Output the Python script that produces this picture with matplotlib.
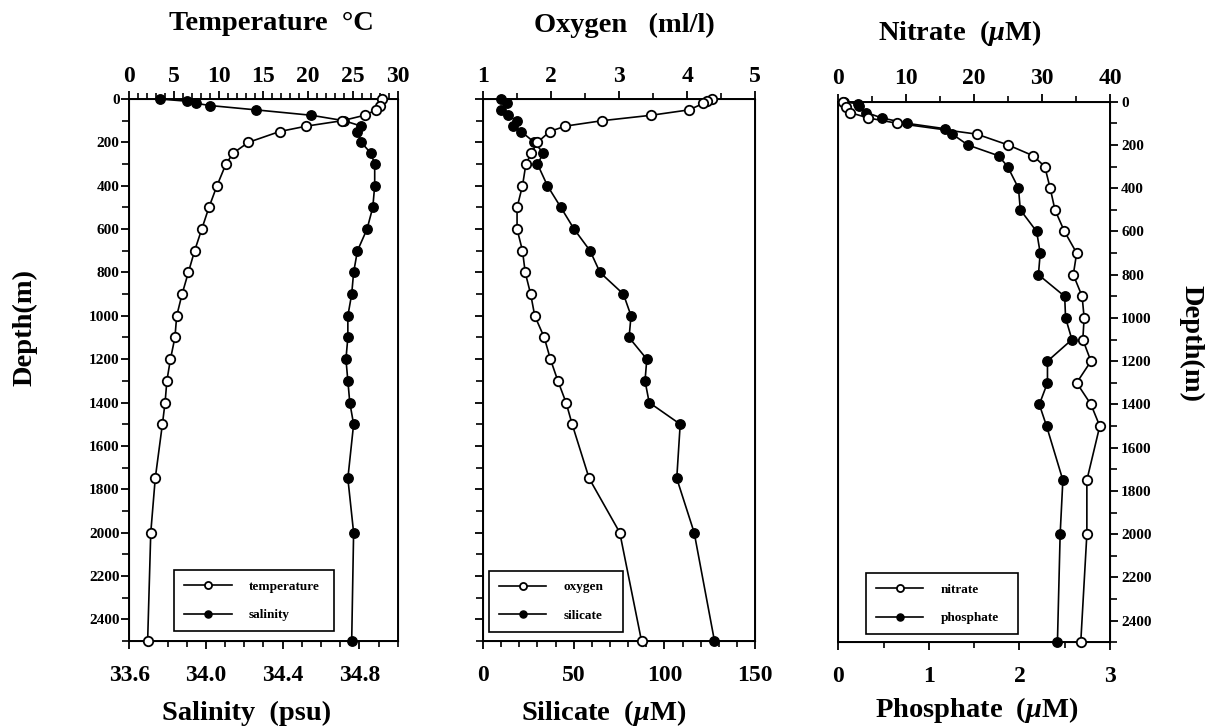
import matplotlib
matplotlib.use('Agg')
import matplotlib.pyplot as plt
from matplotlib.ticker import MultipleLocator

plt.rcParams['font.family'] = ['Liberation Serif', 'DejaVu Serif']
plt.rcParams['font.weight'] = 'bold'
plt.rcParams['mathtext.fontset'] = 'custom'
plt.rcParams['mathtext.rm'] = 'Liberation Serif:bold'
plt.rcParams['mathtext.it'] = 'Liberation Serif:italic:bold'

# Panel 1: temperature (top axis) and salinity (bottom axis)
depth_temp = [0, 30, 50, 75, 100, 125, 150, 200, 250, 300, 400, 500, 600, 700, 800,
              900, 1000, 1100, 1200, 1300, 1400, 1500, 1750, 2000, 2500]
temperature = [28.3, 28.0, 27.6, 26.3, 23.8, 19.8, 16.8, 13.3, 11.6, 10.8, 9.8, 8.9, 8.1,
               7.3, 6.6, 5.9, 5.3, 5.1, 4.6, 4.2, 4.0, 3.7, 2.9, 2.4, 2.05]
depth_sal = [0, 10, 20, 30, 50, 75, 100, 125, 150, 200, 250, 300, 400, 500, 600, 700,
             800, 900, 1000, 1100, 1200, 1300, 1400, 1500, 1750, 2000, 2500]
salinity = [33.76, 33.90, 33.95, 34.02, 34.26, 34.55, 34.72, 34.81, 34.79, 34.81, 34.86,
            34.88, 34.88, 34.87, 34.84, 34.79, 34.77, 34.76, 34.74, 34.74, 34.73, 34.74,
            34.75, 34.77, 34.74, 34.77, 34.76]

# Panel 2: oxygen (top axis) and silicate (bottom axis)
depth_oxy = [0, 10, 20, 50, 75, 100, 125, 150, 200, 250, 300, 400, 500, 600, 700, 800,
             900, 1000, 1100, 1200, 1300, 1400, 1500, 1750, 2000, 2500]
oxygen = [4.36, 4.29, 4.24, 4.03, 3.47, 2.75, 2.21, 1.98, 1.80, 1.71, 1.63, 1.58, 1.50,
          1.50, 1.58, 1.62, 1.70, 1.76, 1.90, 1.99, 2.10, 2.22, 2.31, 2.56, 3.01, 3.33]
depth_sil = [0, 20, 50, 75, 100, 125, 150, 200, 250, 300, 400, 500, 600, 700, 800, 900,
             1000, 1100, 1200, 1300, 1400, 1500, 1750, 2000, 2500]
silicate = [9.9, 13.1, 9.9, 13.6, 18.6, 16.7, 21.0, 28.3, 33.3, 30.0, 35.5, 42.9, 50.2,
            59.0, 64.5, 77.4, 81.6, 80.5, 90.3, 89.3, 91.6, 108.7, 106.8, 116.4, 127.6]

# Panel 3: nitrate (top axis) and phosphate (bottom axis)
depth_nit = [0, 25, 50, 75, 100, 150, 200, 250, 300, 400, 500, 600, 700, 800, 900,
             1000, 1100, 1200, 1300, 1400, 1500, 1750, 2000, 2500]
nitrate = [0.7, 1.1, 1.7, 4.4, 8.7, 20.4, 25.0, 28.7, 30.4, 31.2, 31.9, 33.3, 35.1, 34.6,
           35.9, 36.2, 36.0, 37.2, 35.1, 37.2, 38.5, 36.6, 36.6, 35.7]
depth_pho = [0, 10, 20, 50, 75, 100, 125, 150, 200, 250, 300, 400, 500, 600, 700, 800,
             900, 1000, 1100, 1200, 1300, 1400, 1500, 1750, 2000, 2500]
phosphate = [0.06, 0.22, 0.23, 0.31, 0.48, 0.76, 1.18, 1.26, 1.43, 1.77, 1.87, 1.99, 2.01,
             2.19, 2.23, 2.21, 2.50, 2.51, 2.58, 2.31, 2.31, 2.22, 2.30, 2.48, 2.45, 2.42]

fig = plt.figure(figsize=(12.14, 7.27), dpi=100)

open_style = dict(color='black', lw=1.2, marker='o', ms=6.8, mfc='white', mec='black',
                  mew=1.3, clip_on=False)
fill_style = dict(color='black', lw=1.2, marker='o', ms=6.8, mfc='black', mec='black',
                  clip_on=False)


def setup_depth(ax, side):
    ax.set_ylim(2500, 0)
    ax.yaxis.set_minor_locator(MultipleLocator(100))
    ax.set_yticks(range(0, 2401, 200))
    for sp in ax.spines.values():
        sp.set_linewidth(1.4)
    if side == 'left':
        ax.tick_params(axis='y', which='both', left=True, right=False, labelleft=True,
                       labelright=False, direction='out', labelsize=11, pad=1)
    elif side == 'right':
        ax.tick_params(axis='y', which='both', left=False, right=True, labelleft=False,
                       labelright=True, direction='out', labelsize=11, pad=2)
    else:
        ax.tick_params(axis='y', which='both', left=True, right=False, labelleft=False,
                       labelright=False, direction='out')
    ax.tick_params(axis='y', which='major', length=6, width=1.3)
    ax.tick_params(axis='y', which='minor', length=5, width=1.2)


def setup_x(ax, lo, hi, major, minor, where, pad):
    ax.set_xlim(lo, hi)
    ax.xaxis.set_major_locator(MultipleLocator(major))
    ax.xaxis.set_minor_locator(MultipleLocator(minor))
    ax.tick_params(axis='x', which='both', direction='out', labelsize=17, pad=pad)
    ax.tick_params(axis='x', which='major', length=6, width=1.3)
    ax.tick_params(axis='x', which='minor', length=4, width=1.2)
    if where == 'top':
        ax.xaxis.set_ticks_position('top')
        ax.xaxis.set_label_position('top')


def make_legend(ax, handles, labels, box):
    leg = ax.legend(handles, labels, loc='lower left', bbox_to_anchor=box, mode='expand',
                    borderaxespad=0, fancybox=False, framealpha=1, edgecolor='black',
                    prop={'family': 'Liberation Serif', 'weight': 'bold', 'size': 9.5},
                    handlelength=3.6, handletextpad=1.3, labelspacing=1.25, borderpad=0.75,
                    markerscale=0.75)
    leg.get_frame().set_linewidth(1.2)
    leg.set_zorder(10)


# ---- Panel 1 ----
ax1 = fig.add_axes([0.1065, 0.1183, 0.2211, 0.7455])
ax1t = ax1.twiny()
setup_depth(ax1, 'left')
setup_x(ax1, 33.6, 35.0, 0.4, 0.1, 'bottom', 11)
setup_x(ax1t, 0, 30, 5, 1, 'top', 3)
ax1.set_xticks([33.6, 34.0, 34.4, 34.8])
ax1.set_xticklabels(['33.6', '34.0', '34.4', '34.8'])
h_t, = ax1t.plot(temperature, depth_temp, zorder=3, **open_style)
h_s, = ax1.plot(salinity, depth_sal, zorder=2, **fill_style)
ax1t.set_ylim(2500, 0)
ax1t.tick_params(axis='y', which='both', right=False, left=False)
make_legend(ax1t, [h_t, h_s], ['temperature', 'salinity'], (0.167, 0.018, 0.596, 0.113))

# ---- Panel 2 ----
ax2 = fig.add_axes([0.3979, 0.1183, 0.2241, 0.7455])
ax2t = ax2.twiny()
setup_depth(ax2, 'none')
setup_x(ax2, 0, 150, 50, 10, 'bottom', 11)
setup_x(ax2t, 1, 5, 1, 0.5, 'top', 3)
h_o, = ax2t.plot(oxygen, depth_oxy, zorder=3, **open_style)
h_si, = ax2.plot(silicate, depth_sil, zorder=2, **fill_style)
ax2t.set_ylim(2500, 0)
ax2t.tick_params(axis='y', which='both', right=False, left=False)
make_legend(ax2t, [h_o, h_si], ['oxygen', 'silicate'], (0.022, 0.017, 0.493, 0.113))

# ---- Panel 3 ----
ax3 = fig.add_axes([0.6905, 0.1165, 0.2238, 0.7436])
ax3t = ax3.twiny()
setup_depth(ax3, 'right')
setup_x(ax3, 0, 3, 1, 0.5, 'bottom', 11)
setup_x(ax3t, 0, 40, 10, 5, 'top', 3)
h_n, = ax3t.plot(nitrate, depth_nit, zorder=3, **open_style)
h_p, = ax3.plot(phosphate, depth_pho, zorder=2, **fill_style)
ax3t.set_ylim(2500, 0)
ax3t.tick_params(axis='y', which='both', right=False, left=False)
make_legend(ax3t, [h_n, h_p], ['nitrate', 'phosphate'], (0.102, 0.015, 0.559, 0.113))

# ---- axis titles ----
tkw = dict(ha='center', va='center', fontsize=20.5, fontweight='bold')
fig.text(0.2232, 0.968, 'Temperature  °C', **tkw)
fig.text(0.514, 0.9656, 'Oxygen   (ml/l)', **tkw)
fig.text(0.791, 0.9546, r'Nitrate  ($\mu$M)', **tkw)
fig.text(0.2035, 0.018, 'Salinity  (psu)', **tkw)
fig.text(0.4975, 0.019, r'Silicate  ($\mu$M)', **tkw)
fig.text(0.8048, 0.0234, r'Phosphate  ($\mu$M)', **tkw)
fig.text(0.0206, 0.549, 'Depth(m)', rotation=90, **tkw)
fig.text(0.981, 0.527, 'Depth(m)', rotation=270, **tkw)

fig.savefig('out.png', dpi=100)
